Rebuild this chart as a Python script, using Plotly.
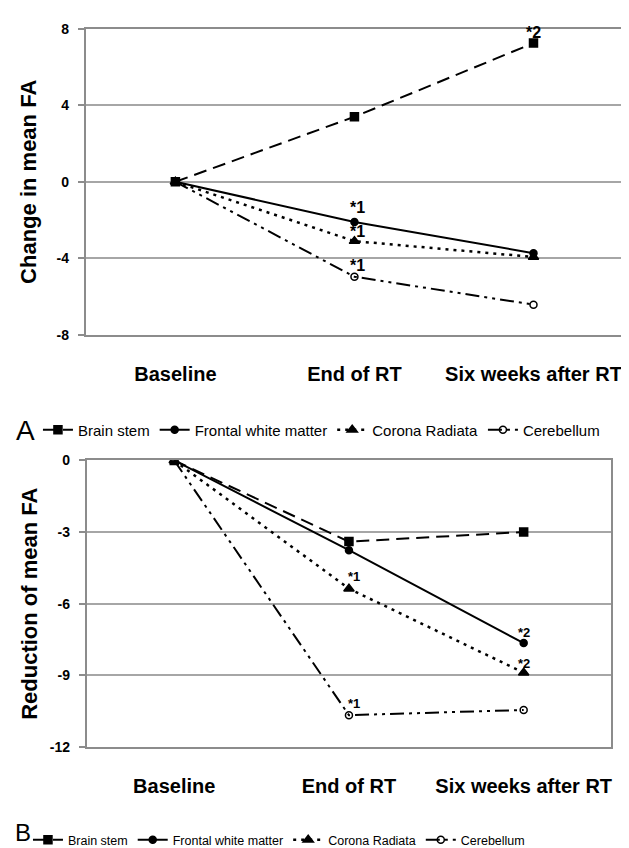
import plotly.graph_objects as go
from plotly.subplots import make_subplots

categories = ["Baseline", "End of RT", "Six weeks after RT"]
series_names = ["Brain stem", "Frontal white matter", "Corona Radiata", "Cerebellum"]

# Panel A: change in mean FA
a_brain_stem = [0, 3.4, 7.25]
a_frontal = [0, -2.1, -3.73]
a_corona = [0, -3.1, -3.93]
a_cerebellum = [0, -4.96, -6.42]

# Panel B: reduction of mean FA
b_brain_stem = [0, -3.4, -3.0]
b_frontal = [0, -3.76, -7.65]
b_corona = [0, -5.37, -8.89]
b_cerebellum = [0, -10.67, -10.45]

a_ticks = [-8, -4, 0, 4, 8]
a_ticktext = ["-8", "-4", "0", "4", "8"]
b_ticks = [-12, -9, -6, -3, 0]
b_ticktext = ["-12", "-9", "-6", "-3", "0"]

# significance marks: (series index, category index, label)
a_marks = [(0, 2, "*2"), (1, 1, "*1"), (2, 1, "*1"), (3, 1, "*1")]
b_marks = [(2, 1, "*1"), (1, 2, "*2"), (2, 2, "*2"), (3, 1, "*1")]

panel_letters = ["A", "B"]

a_values = [a_brain_stem, a_frontal, a_corona, a_cerebellum]
b_values = [b_brain_stem, b_frontal, b_corona, b_cerebellum]

W, H = 629, 848


def px_x(v):
    return v / W


def px_y(v):
    return 1 - v / H


styles = [
    dict(dash="13px,7px", width=2, symbol="square", size=8),
    dict(dash="solid", width=2, symbol="circle", size=7),
    dict(dash="3px,5px", width=2.5, symbol="triangle-up", size=9),
    dict(dash="14px,5px,3px,5px,3px,5px", width=2, symbol="circle-open", size=7),
]

fig = make_subplots(rows=2, cols=1)

for panel, (vals, legend_name) in enumerate([(a_values, "legend"), (b_values, "legend2")]):
    for i, name in enumerate(series_names):
        st = styles[i]
        fig.add_trace(
            go.Scatter(
                x=categories, y=vals[i], name=name, mode="lines+markers",
                line=dict(color="black", width=st["width"], dash=st["dash"]),
                marker=dict(symbol=st["symbol"], size=st["size"], color="black",
                            line=dict(color="black", width=1.5)),
                legend=legend_name, showlegend=True,
            ),
            row=panel + 1, col=1,
        )

a_shift = {(0, 2): (0, 11), (1, 1): (3, 14), (2, 1): (3, 10), (3, 1): (3, 11)}
for s, c, lab in a_marks:
    dx, dy = a_shift[(s, c)]
    fig.add_annotation(x=categories[c], y=a_values[s][c], xref="x", yref="y", text=lab,
                       showarrow=False, xshift=dx, yshift=dy,
                       font=dict(family="Liberation Sans", size=16, color="black", weight="bold"))
b_shift = {(2, 1): (5, 12), (1, 2): (0, 11), (2, 2): (0, 9), (3, 1): (5, 12)}
for s, c, lab in b_marks:
    dx, dy = b_shift[(s, c)]
    fig.add_annotation(x=categories[c], y=b_values[s][c], xref="x2", yref="y2", text=lab,
                       showarrow=False, xshift=dx, yshift=dy,
                       font=dict(family="Liberation Sans", size=13, color="black", weight="bold"))

# panel letters
fig.add_annotation(x=px_x(18), y=px_y(422), xref="paper", yref="paper", text=panel_letters[0],
                   showarrow=False, xanchor="center", yanchor="middle",
                   font=dict(family="Liberation Sans", size=28, color="black"))
fig.add_annotation(x=px_x(15), y=0, xref="paper", yref="paper", text=panel_letters[1],
                   showarrow=False, xanchor="center", yanchor="bottom",
                   font=dict(family="Liberation Sans", size=24, color="black"))

grid = "#a6a6a6"
border = "#8c8c8c"
tickfont_x = dict(family="Liberation Sans", size=20, color="black", weight="bold")
tickfont_y = dict(family="Liberation Sans", size=14, color="black", weight="bold")
titlefont = dict(family="Liberation Sans", size=22, color="black", weight="bold")

common_x = dict(showgrid=False, zeroline=False, showline=True, linecolor=border, linewidth=2,
                mirror=True, ticks="", tickfont=tickfont_x, range=[-0.5, 2.5], ticklabelstandoff=20)
fig.update_xaxes(**common_x, domain=[px_x(78), px_x(616)], row=1, col=1)
fig.update_xaxes(**common_x, domain=[px_x(79), px_x(604)], row=2, col=1)

common_y = dict(showgrid=True, gridcolor=grid, gridwidth=1.5, zeroline=False, showline=True,
                linecolor=border, linewidth=2, mirror=True, ticks="outside", ticklen=6,
                tickcolor=border, tickwidth=1.5, tickfont=tickfont_y, ticklabelstandoff=6)
fig.update_yaxes(**common_y, domain=[px_y(325), px_y(13)], range=[-8, 8], tickvals=a_ticks,
                 ticktext=a_ticktext, title=dict(text="Change in mean FA", font=titlefont, standoff=14),
                 row=1, col=1)
fig.update_yaxes(**common_y, domain=[px_y(745), px_y(453)], range=[-12, 0], tickvals=b_ticks,
                 ticktext=b_ticktext, title=dict(text="Reduction of mean FA", font=titlefont, standoff=6),
                 row=2, col=1)

fig.update_layout(
    width=W, height=H,
    margin=dict(l=0, r=0, t=0, b=0),
    paper_bgcolor="white", plot_bgcolor="white",
    legend=dict(orientation="h", x=px_x(30), y=px_y(422), xanchor="left", yanchor="middle",
                font=dict(family="Liberation Sans", size=15, color="black"),
                bgcolor="rgba(0,0,0,0)", traceorder="normal"),
    legend2=dict(orientation="h", x=px_x(20), y=px_y(840), xanchor="left", yanchor="middle",
                 font=dict(family="Liberation Sans", size=12.5, color="black"),
                 bgcolor="rgba(0,0,0,0)", traceorder="normal"),
)

fig.write_html("out.html")
